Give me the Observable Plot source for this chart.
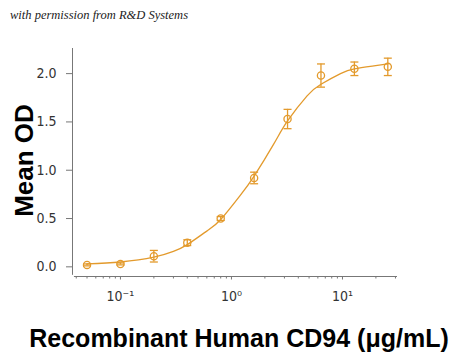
<!DOCTYPE html>
<html>
<head>
<meta charset="utf-8">
<script src="https://cdn.jsdelivr.net/npm/d3@7"></script>
<script src="https://cdn.jsdelivr.net/npm/@observablehq/plot@0.6"></script>
<style>
  html, body { margin: 0; padding: 0; background: #fff; width: 450px; height: 354px; overflow: hidden; }
  #title { height: 28px; line-height: 30px; padding-left: 10px; font-family: "Liberation Serif", "DejaVu Serif", serif; font-style: italic; font-size: 12.5px; color: #222; white-space: nowrap; }
  svg { display: block; }
</style>
</head>
<body>
<div id="title">with permission from R&amp;D Systems</div>
<div id="chart"></div>
<script>
// Measured points (concentration in µg/mL, mean OD, error)
const conc   = [0.05, 0.1, 0.2, 0.4, 0.8, 1.6, 3.2, 6.4, 12.8, 25.6];
const meanOD = [0.02, 0.03, 0.11, 0.25, 0.50, 0.92, 1.53, 1.98, 2.05, 2.07];
const errOD  = [0.01, 0.01, 0.06, 0.03, 0.02, 0.06, 0.10, 0.12, 0.07, 0.09];

// Fitted curve
const fitConc = [0.05, 0.1, 0.2, 0.3, 0.4, 0.6, 0.8, 1.2, 1.6, 2.4, 3.2, 4.8, 6.4, 9.6, 12.8, 19.2, 25.6];
const fitOD   = [0.03, 0.05, 0.10, 0.16, 0.23, 0.37, 0.49, 0.74, 0.94, 1.27, 1.51, 1.77, 1.89, 2.00, 2.05, 2.08, 2.10];

// Axis ticks and labels
const yTicks = [0, 0.5, 1, 1.5, 2];
const xMajorTicks = [0.1, 1, 10];
const xMajorLabels = ["10\u207B\u00B9", "10\u2070", "10\u00B9"];
const xMinorTicks = [0.04, 0.05, 0.06, 0.07, 0.08, 0.09,
                     0.2, 0.3, 0.4, 0.5, 0.6, 0.7, 0.8, 0.9,
                     2, 3, 4, 5, 6, 7, 8, 9, 20, 30];

const xTitle = "Recombinant Human CD94 (\u03BCg/mL)";
const yTitle = "Mean OD";

const points = conc.map((c, i) => ({c, od: meanOD[i], e: errOD[i]}));
const fit = fitConc.map((c, i) => ({c, od: fitOD[i]}));

const color = "#E39A2C";
const axisColor = "#777";
const xDomain = [0.037, 31.3];
const yDomain = [-0.1, 2.26];

const capSymbol = {
  draw(ctx) { ctx.moveTo(-4, 0); ctx.lineTo(4, 0); }
};

const tickFont = '"Liberation Sans Narrow", "DejaVu Sans Condensed", "Roboto Condensed", "Liberation Sans", sans-serif';

const plot = Plot.plot({
  width: 450,
  height: 326,
  marginLeft: 72,
  marginRight: 53,
  marginTop: 20,
  marginBottom: 78,
  style: { fontFamily: tickFont, fontSize: "14px", color: "#333", background: "#fff" },
  x: { type: "log", domain: xDomain },
  y: { domain: yDomain },
  marks: [
    // axis lines
    Plot.ruleX([xDomain[0]], { y1: yDomain[0] + 0.012, y2: yDomain[1], stroke: axisColor, strokeWidth: 1 }),
    Plot.ruleY([yDomain[0]], { x1: 0.0385, x2: xDomain[1], stroke: axisColor, strokeWidth: 1 }),
    // y axis
    Plot.axisY({ ticks: yTicks, tickFormat: d3.format(".1f"), tickSize: 6, tickPadding: 10, stroke: axisColor, label: null, fontSize: 14, fill: "#333" }),
    // x axis minor & major ticks
    Plot.axisX({ ticks: xMinorTicks, tickSize: 2.5, tickFormat: () => "", stroke: axisColor, label: null }),
    Plot.axisX({ ticks: xMajorTicks, tickSize: 3.5, tickPadding: 11, tickFormat: d => xMajorLabels[xMajorTicks.indexOf(d)], stroke: axisColor, label: null, fontSize: 14, fill: "#333" }),
    // fitted curve
    Plot.line(fit, { x: "c", y: "od", stroke: color, strokeWidth: 1.3, curve: "natural" }),
    // error bars
    Plot.ruleX(points, { x: "c", y1: d => d.od - d.e, y2: d => d.od + d.e, stroke: color, strokeWidth: 1.3 }),
    Plot.dot(points, { x: "c", y: d => d.od - d.e, symbol: capSymbol, stroke: color, fill: "none", strokeWidth: 1.3 }),
    Plot.dot(points, { x: "c", y: d => d.od + d.e, symbol: capSymbol, stroke: color, fill: "none", strokeWidth: 1.3 }),
    // markers
    Plot.dot(points, { x: "c", y: "od", r: 3.6, stroke: color, fill: "none", strokeWidth: 1.3 }),
    // axis titles
    Plot.text([xTitle], { frameAnchor: "bottom", textAnchor: "middle", lineAnchor: "middle", dx: 4, dy: 62, text: d => d, fontFamily: '"Liberation Sans", Arial, sans-serif', fontWeight: "bold", fontSize: 25, fill: "#000" }),
    Plot.text([yTitle], { frameAnchor: "left", textAnchor: "middle", lineAnchor: "middle", dx: -48, dy: -2, rotate: -90, text: d => d, fontFamily: '"Liberation Sans", Arial, sans-serif', fontWeight: "bold", fontSize: 26, fill: "#000" })
  ]
});
document.getElementById("chart").appendChild(plot);
</script>
</body>
</html>
